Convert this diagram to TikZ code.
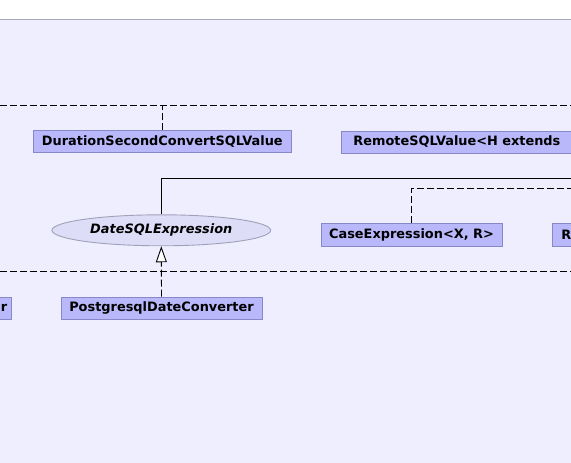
\documentclass[tikz,border=0pt]{standalone}
\usepackage{fontspec}
\setmainfont{DejaVu Sans}
\usetikzlibrary{arrows.meta,positioning,shapes.geometric}
\definecolor{pagebg}{HTML}{EEEEFF}
\definecolor{clsfill}{HTML}{B8B8FA}
\definecolor{clsdraw}{HTML}{8888C8}
\definecolor{ifill}{HTML}{DDDDF8}
\definecolor{idraw}{HTML}{A0A0B8}
\definecolor{rulegray}{HTML}{A8A8B8}

\begin{document}
\begin{tikzpicture}[x=1pt,y=-1pt,>=Latex,
  cls/.style={draw=clsdraw,fill=clsfill,line width=0.9pt,minimum height=22pt,inner sep=0pt,font=\bfseries\fontsize{12.9}{14}\selectfont},
  iface/.style={ellipse,draw=idraw,fill=ifill,line width=0.9pt,inner sep=0pt,font=\bfseries\itshape\fontsize{12.9}{14}\selectfont},
  bus/.style={line width=0.9pt,dash pattern=on 7pt off 3pt},
  impl/.style={line width=0.9pt,dash pattern=on 7pt off 3pt,-{Triangle[width=11pt,length=16pt,fill=white,line width=0.9pt]}}]
\useasboundingbox (0,0) rectangle (571,463);
\clip (0,0) rectangle (571,463);
\fill[pagebg] (0,19.5) rectangle (571,463);
\draw[rulegray,line width=1pt] (0,19.5) -- (571,19.5);
% packages buses
\coordinate (topL) at (0,105);
\coordinate (topR) at (571,105);
\coordinate (lowL) at (0,271.7);
\coordinate (lowR) at (571,271.7);
\coordinate (solidR) at (571,178);
\coordinate (caseR) at (571,188);
\draw[bus] (topL) -- (topR);
\draw[bus] (lowL) -- (lowR);
% classes
\node[cls,minimum width=258.7pt] (dur) at (162.3,141.7) {DurationSecondConvertSQLValue};
\node[cls,anchor=west,text width=230pt,align=left,inner xsep=12pt] (remote) at (341,142) {RemoteSQLValue<H extends};
\node[cls,minimum width=181pt,minimum height=23pt] (case) at (411.5,234.5) {CaseExpression<X, R>};
\node[cls,anchor=west,text width=60pt,align=left,inner xsep=9pt,minimum height=23pt] (rpart) at (552,234.5) {R};
\node[iface,minimum width=218.7pt,minimum height=31pt] (dsql) at (161.3,230.3) {DateSQLExpression};
\node[cls,minimum width=201pt] (pg) at (161.5,308) {PostgresqlDateConverter};
\node[cls,anchor=east,text width=60pt,align=right,inner xsep=4pt] (lpart) at (11.7,308) {r};
% connectors
\draw[bus] (dur.north) -- (dur.north |- topL);
\draw[line width=0.9pt] (dsql.north) |- (solidR);
\draw[bus] (case.north) |- (caseR);
\draw[impl] (pg.north) -- (dsql.south);
\end{tikzpicture}
\end{document}
